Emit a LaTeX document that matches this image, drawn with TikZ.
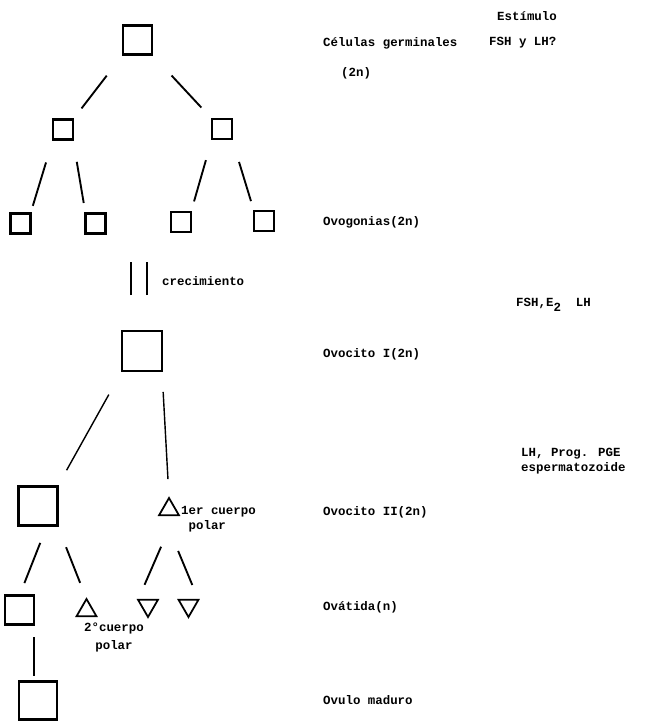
\documentclass[tikz,border=0pt]{standalone}
\usepackage{fontspec}
\newfontfamily\maquina{Liberation Mono}
\usetikzlibrary{shapes.geometric}

\tikzset{
  celda/.style={draw, line width=1.8pt, inner sep=0pt, outer sep=0pt, minimum size=#1},
  triangulo/.style={regular polygon, regular polygon sides=3, draw, line width=1.5pt,
    inner sep=0pt, outer sep=0pt, minimum size=0.69cm},
  invertido/.style={triangulo, shape border rotate=180},
  rama/.style={line width=1.6pt},
  texto/.style={anchor=west, inner sep=0pt, font=\maquina\bfseries\fontsize{10.6}{13}\selectfont}
}

\begin{document}
\begin{tikzpicture}[x=0.03cm,y=-0.03cm]
            \useasboundingbox (0,0) rectangle (647,723);
            % celulas germinales y ovogonias
            \node[celda=0.87cm] (G) at (137.5,40) {};
            \node[celda=0.6cm] (G1) at (63,129.5) {};
            \node[celda=0.6cm] (G2) at (222,129) {};
            \node[celda=0.6cm] (V1) at (20.5,223.5) {};
            \node[celda=0.6cm] (V2) at (95.5,223.5) {};
            \node[celda=0.6cm] (V3) at (181,222) {};
            \node[celda=0.6cm] (V4) at (264,221) {};
            \draw[rama,shorten <=0.8cm,shorten >=0.42cm] (G.south west)--(G1.north east);
            \draw[rama,shorten <=0.86cm,shorten >=0.47cm] (G.south east)--(G2.north west);
            \draw[rama,shorten <=0.72cm,shorten >=0.24cm] (G1.south west)--(V1.north east);
            \draw[rama,shorten <=0.68cm,shorten >=0.32cm] (G1.south east)--(V2.north west);
            \draw[rama,shorten <=0.66cm,shorten >=0.33cm] (G2.south west)--(V3.north east);
            \draw[rama,shorten <=0.72cm,shorten >=0.31cm] (G2.south east)--(V4.north west);
            % ovocitos
            \node[celda=1.2cm] (OI) at (142,351) {};
            \draw[rama,line width=1.8pt] ([shift={(-11,-36)}]OI.north)--++(0,-33);
            \draw[rama,line width=1.8pt] ([shift={(5,-36)}]OI.north)--++(0,-33);
            \node[celda=1.17cm] (OII) at (38,506) {};
            \node[triangulo] (P1) at (169,509.5) {};
            \draw[rama,line width=1.2pt,shorten <=0.81cm,shorten >=0.56cm] (OI.south west)--(OII.north east);
            \draw[rama,line width=1.2pt,shorten <=0.63cm,shorten >=0.57cm] (OI.south east)--(P1.north);
            % ovatidas
            \node[celda=0.87cm] (T1) at (19.5,610) {};
            \node[triangulo] (P2) at (86.5,610.5) {};
            \node[invertido] (D1) at (148,605.5) {};
            \node[invertido] (D2) at (188.5,605.5) {};
            \draw[rama,shorten <=0.56cm,shorten >=0.4cm] (OII.-65)--(T1.north);
            \draw[rama,shorten <=0.7cm,shorten >=0.52cm] (OII.south east)--(P2.north);
            \draw[rama,shorten <=1.03cm,shorten >=0.49cm] (P1.south east)--(D1.150);
            \draw[rama,shorten <=1.16cm,shorten >=0.48cm] (P1.south west)--(D2.30);
            % ovulo
            \node[celda=1.14cm] (OM) at (38,700.5) {};
            \draw[rama,shorten <=0.38cm,shorten >=0.18cm] (T1.south east)--(T1.south east |- OM.north);
            % textos
            \node[texto] (estimulo) at (497,16) {Estímulo};
            \node[texto] (germ) at (323,43) {Células germinales};
            \node[texto] (fsh) at (489,43) {FSH y LH?};
            \node[texto] (dosn) at (341,73) {(2n)};
            \node[texto] (ovog) at (323,222) {Ovogonias(2n)};
            \node[texto] (crec) at (162,281) {crecimiento};
            \node[texto] (fshe) at (516,305) {FSH,E\raisebox{-.7ex}{2}\ \ LH};
            \node[texto] (ovoI) at (323,354) {Ovocito I(2n)};
            \node[texto,align=left] (lh) at (521,461) {LH, Prog. PGE\\espermatozoide};
            \node[texto] (ovoII) at (323,512) {Ovocito II(2n)};
            \node[texto,align=left] (cp1) at (181,519) {1er cuerpo\\\hspace*{0.6em}polar};
            \node[texto] (ovat) at (323,607) {Ovátida(n)};
            \node[texto,align=center,anchor=north] (cp2) at (114,623) {2°cuerpo\\[2pt]polar};
            \node[texto] (ovulo) at (323,700) {Ovulo maduro};
\end{tikzpicture}
\end{document}
